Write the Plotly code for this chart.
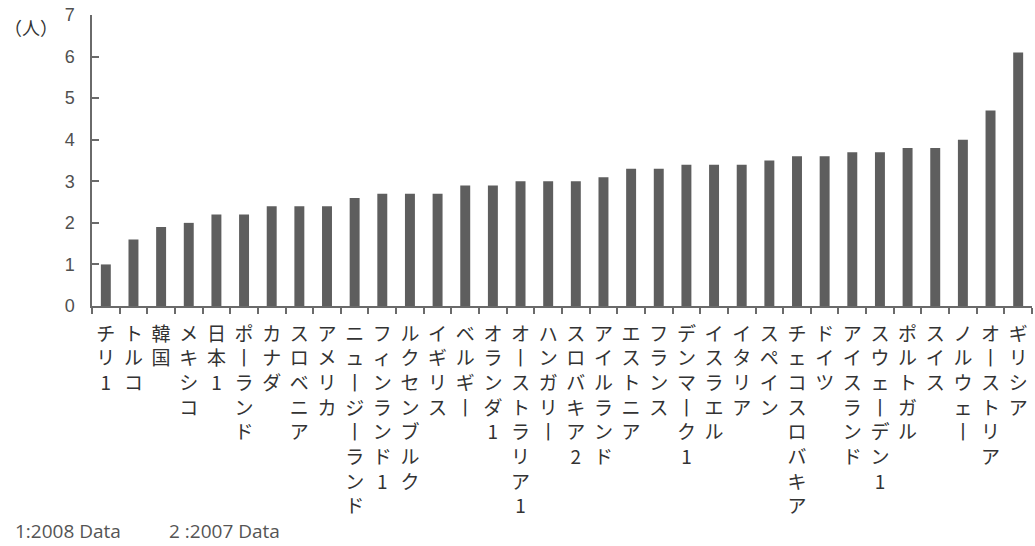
import plotly.graph_objects as go

# Countries (footnote markers appended: 1 = 2008 data, 2 = 2007 data)
countries = [
    "チリ1", "トルコ", "韓国", "メキシコ", "日本1", "ポーランド", "カナダ",
    "スロベニア", "アメリカ", "ニュージーランド", "フィンランド1", "ルクセンブルク",
    "イギリス", "ベルギー", "オランダ1", "オーストラリア1", "ハンガリー",
    "スロバキア2", "アイルランド", "エストニア", "フランス", "デンマーク1",
    "イスラエル", "イタリア", "スペイン", "チェコスロバキア", "ドイツ",
    "アイスランド", "スウェーデン1", "ポルトガル", "スイス", "ノルウェー",
    "オーストリア", "ギリシア",
]
# Persons per 1,000 population
values = [
    1.0, 1.6, 1.9, 2.0, 2.2, 2.2, 2.4, 2.4, 2.4, 2.6, 2.7, 2.7,
    2.7, 2.9, 2.9, 3.0, 3.0, 3.0, 3.1, 3.3, 3.3, 3.4,
    3.4, 3.4, 3.5, 3.6, 3.6, 3.7, 3.7, 3.8, 3.8, 4.0,
    4.7, 6.1,
]
y_ticks = [0, 1, 2, 3, 4, 5, 6, 7]
unit_label = "（人）"
footnote_1 = "1:2008 Data"
footnote_2 = "2 :2007 Data"

AXIS = "#6a6a6a"
TEXT = "#333333"
JP_FONT = "Noto Sans CJK JP"
NOTE_FONT = dict(family="Open Sans, Lato, sans-serif", size=19, color="#555555")


def vertical(name):
    # stack characters top-to-bottom; the long-vowel mark turns upright
    return "<br>".join("丨" if ch == "ー" else ch for ch in name)


fig = go.Figure(
    go.Bar(
        x=countries,
        y=values,
        marker=dict(color="#5e5e5e", line=dict(width=0)),
    )
)

annotations = [
    dict(
        x=0, xref="paper", y=1, yref="paper", text=unit_label, showarrow=False,
        xanchor="center", yanchor="middle", xshift=-61, yshift=-12,
        font=dict(family=JP_FONT, size=18, color=TEXT),
    ),
    dict(
        x=0, xref="paper", y=0, yref="paper", text=footnote_1, showarrow=False,
        xanchor="left", yanchor="middle", xshift=-79, yshift=-225,
        font=NOTE_FONT,
    ),
    dict(
        x=0, xref="paper", y=0, yref="paper", text=footnote_2, showarrow=False,
        xanchor="left", yanchor="middle", xshift=75, yshift=-225,
        font=NOTE_FONT,
    ),
]

fig.update_layout(
    width=1035, height=546,
    margin=dict(l=92, r=3, t=15, b=240),
    paper_bgcolor="white", plot_bgcolor="white",
    bargap=0.64, showlegend=False,
    annotations=annotations,
    xaxis=dict(
        type="category", tickmode="array",
        tickvals=countries, ticktext=[vertical(c) for c in countries],
        tickangle=0, tickfont=dict(family=JP_FONT, size=19, color=TEXT),
        ticklabelstandoff=10,
        showgrid=False,
        showline=True, linecolor=AXIS, linewidth=1.5,
        ticks="outside", tickson="boundaries", ticklen=6,
        tickcolor=AXIS, tickwidth=1.5,
    ),
    yaxis=dict(
        range=[0, 7], tickvals=y_ticks, showgrid=False, zeroline=False,
        showline=True, linecolor=AXIS, linewidth=1.5,
        ticks="inside", ticklen=7, tickcolor=AXIS, tickwidth=1.5,
        tickfont=dict(family="Liberation Sans, Arial, sans-serif", size=18, color="#505050"),
        ticklabelstandoff=12,
    ),
)

fig.write_html("out.html")
